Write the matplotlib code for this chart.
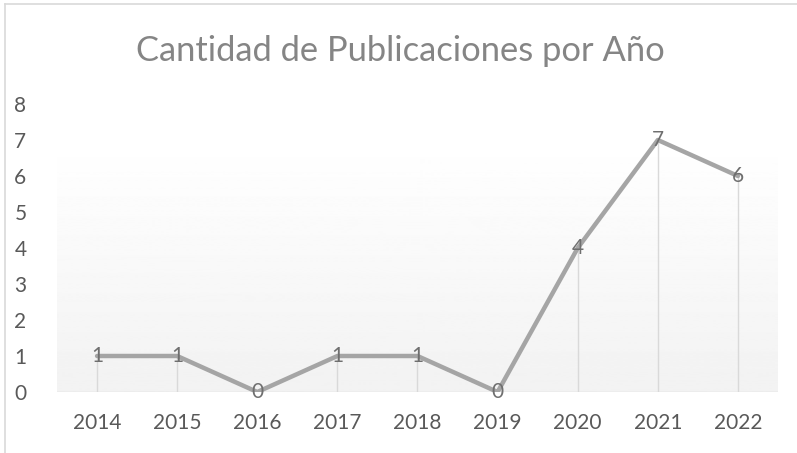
import numpy as np
import matplotlib.pyplot as plt
from matplotlib.lines import Line2D

years = ['2014', '2015', '2016', '2017', '2018', '2019', '2020', '2021', '2022']
counts = [1, 1, 0, 1, 1, 0, 4, 7, 6]
y_ticks = [0, 1, 2, 3, 4, 5, 6, 7, 8]

title = 'Cantidad de Publicaciones por Año'

plt.rcParams['font.family'] = ['Lato', 'DejaVu Sans']

W, H = 797, 453
fig = plt.figure(figsize=(W / 100, H / 100), dpi=100)

# plot area in pixel coords
left, right, bottom, top = 57, 778, 392, 104
ax = fig.add_axes([left / W, 1 - bottom / H, (right - left) / W, (bottom - top) / H])

x = np.arange(len(years))
ax.set_xlim(-0.5, len(years) - 0.5)
ax.set_ylim(0, 8)

# gradient fill of the lower part of the plot area
grad = np.linspace(0.949, 1.0, 256).reshape(-1, 1)
ax.imshow(grad, cmap='gray', vmin=0, vmax=1, origin='lower', aspect='auto',
          extent=(-0.5, len(years) - 0.5, 0, 7.05), zorder=0)

# drop lines
ax.vlines(x, 0, counts, color='#d9d9d9', linewidth=1.0, zorder=1)
ax.axhline(0, color='#d9d9d9', linewidth=1.0, zorder=1)

ax.plot(x, counts, color='#a5a5a5', linewidth=3.2, solid_capstyle='round',
        solid_joinstyle='round', zorder=2)

for xi, v in zip(x, counts):
    ax.text(xi, v, str(v), ha='center', va='center', fontsize=15,
            color='#6f6f6f', zorder=3)

for s in ax.spines.values():
    s.set_visible(False)

ax.set_xticks(x)
ax.set_xticklabels(years)
ax.set_yticks(y_ticks)
ax.tick_params(axis='both', length=0, labelsize=15, labelcolor='#595959')
ax.tick_params(axis='x', pad=15)
ax.tick_params(axis='y', pad=22)

fig.text(400 / W, 1 - 51 / H, title, ha='center', va='center', fontsize=24.8,
         color='#858585')

# chart border (only top and left visible in crop)
fig.add_artist(Line2D([5 / W, 5 / W], [0, 1 - 4 / H], color='#d9d9d9',
                      linewidth=1.2, transform=fig.transFigure))
fig.add_artist(Line2D([5 / W, 1], [1 - 4 / H, 1 - 4 / H], color='#d9d9d9',
                      linewidth=1.2, transform=fig.transFigure))

fig.savefig('out.png', dpi=100)
